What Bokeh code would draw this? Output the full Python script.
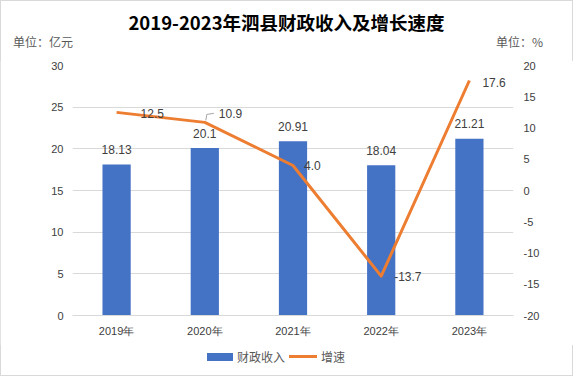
from bokeh.plotting import figure
from bokeh.models import (ColumnDataSource, Range1d, LinearAxis, FixedTicker, LabelSet, Div)
from bokeh.layouts import column
from bokeh.core.properties import value
from bokeh.embed import file_html
from bokeh.resources import INLINE

# ---- data ----
years = ["2019年", "2020年", "2021年", "2022年", "2023年"]
revenue = [18.13, 20.1, 20.91, 18.04, 21.21]          # 亿元
growth = [12.5, 10.9, 4.0, -13.7, 17.6]               # %
revenue_labels = ["18.13", "20.1", "20.91", "18.04", "21.21"]
growth_labels = ["12.5", "10.9", "4.0", "-13.7", "17.6"]
left_ticks = [0, 5, 10, 15, 20, 25, 30]
right_ticks = [-20, -15, -10, -5, 0, 5, 10, 15, 20]
series_names = ["财政收入", "增速"]
series_colors = ["#4472C4", "#ED7D31"]
title_text = "2019-2023年泗县财政收入及增长速度"
unit_left = "单位：亿元"
unit_right = "单位：%"

CJK = "Noto Sans CJK SC"
NUM = "Liberation Sans"

W, H = 573, 376
HEAD = 60
ML, MR, MT = 72, 60, 5
FH = 250
MB = 30
PH = MT + FH + MB
FOOT = H - HEAD - PH
FW = W - ML - MR

xs = list(range(len(years)))
x0, x1 = -0.5, len(years) - 0.5
y0, y1 = left_ticks[0], left_ticks[-1]
r0, r1 = right_ticks[0], right_ticks[-1]

header = Div(text=(
    f'<div style="position:relative;width:{W}px;height:{HEAD}px;font-family:\'{CJK}\';">'
    f'<div style="position:absolute;left:0;top:9px;width:{W}px;text-align:center;'
    f'font-size:18.5px;font-weight:bold;color:#000;line-height:26px;white-space:nowrap;">{title_text}</div>'
    f'<div style="position:absolute;left:13px;top:33px;font-size:12px;color:#595959;'
    f'line-height:18px;white-space:nowrap;">{unit_left}</div>'
    f'<div style="position:absolute;left:496px;top:33px;font-size:12px;color:#595959;'
    f'line-height:18px;white-space:nowrap;">{unit_right}</div>'
    f'</div>'), width=W, height=HEAD, margin=0)

footer = Div(text=(
    f'<div style="position:relative;width:{W}px;height:{FOOT}px;font-family:\'{CJK}\';'
    f'font-size:12px;color:#595959;">'
    f'<div style="position:absolute;left:207px;top:8px;width:26px;height:8px;background:{series_colors[0]};"></div>'
    f'<div style="position:absolute;left:237px;top:3px;line-height:18px;white-space:nowrap;">{series_names[0]}</div>'
    f'<div style="position:absolute;left:289px;top:10px;width:28px;height:3px;background:{series_colors[1]};"></div>'
    f'<div style="position:absolute;left:321px;top:3px;line-height:18px;white-space:nowrap;">{series_names[1]}</div>'
    f'</div>'), width=W, height=FOOT, margin=0)

p = figure(width=W, height=PH, output_backend="svg", toolbar_location=None, title=None,
           x_range=Range1d(x0, x1), y_range=Range1d(y0, y1),
           min_border_left=ML, min_border_right=MR, min_border_top=MT, min_border_bottom=MB,
           margin=0)
p.extra_y_ranges = {"pct": Range1d(r0, r1)}
p.outline_line_color = None
p.background_fill_color = "white"
p.border_fill_color = "white"

src = ColumnDataSource(dict(x=xs, rev=revenue, g=growth, rl=revenue_labels, gl=growth_labels))

bars = p.vbar(x="x", top="rev", width=0.32, source=src, fill_color=series_colors[0], line_color=None)
line = p.line(x="x", y="g", source=src, y_range_name="pct", line_color=series_colors[1],
              line_width=3, line_join="round")

# axes
p.xaxis.ticker = FixedTicker(ticks=xs)
p.xaxis.major_label_overrides = {i: y for i, y in enumerate(years)}
p.xaxis.axis_line_color = "#d9d9d9"
p.xaxis.major_tick_line_color = None
p.xaxis.minor_tick_line_color = None
p.xaxis.major_tick_out = 0
p.xaxis.major_label_standoff = 9
p.xaxis.major_label_text_font = NUM
p.xaxis.major_label_text_font_size = "11px"
p.xaxis.major_label_text_color = "#404040"

p.yaxis.ticker = FixedTicker(ticks=left_ticks)
p.yaxis.axis_line_color = None
p.yaxis.major_tick_line_color = None
p.yaxis.minor_tick_line_color = None
p.yaxis.major_tick_out = 0
p.yaxis.major_label_standoff = 9
p.yaxis.major_label_text_font = NUM
p.yaxis.major_label_text_font_size = "11px"
p.yaxis.major_label_text_color = "#404040"

ra = LinearAxis(y_range_name="pct", ticker=FixedTicker(ticks=right_ticks))
ra.major_label_overrides = {t: str(t) for t in right_ticks}
ra.axis_line_color = None
ra.major_tick_line_color = None
ra.minor_tick_line_color = None
ra.major_tick_out = 0
ra.major_label_standoff = 10
ra.major_label_text_font = NUM
ra.major_label_text_font_size = "11px"
ra.major_label_text_color = "#404040"
p.add_layout(ra, "right")

p.xgrid.grid_line_color = None
p.ygrid.grid_line_color = "#d9d9d9"
p.ygrid.grid_line_width = 1

# data labels
p.add_layout(LabelSet(x="x", y="rev", text="rl", source=src, y_offset=15,
                      text_align="center", text_baseline="middle",
                      text_font=value(NUM), text_font_size=value("12px"), text_color="#404040"))
g_xoff = [24, 14, 11, 13, 13]
g_yoff = [-1, 9, 0, 0, -2]
src2 = ColumnDataSource(dict(x=xs, g=growth, gl=growth_labels, xo=g_xoff, yo=g_yoff))
p.add_layout(LabelSet(x="x", y="g", text="gl", source=src2, y_range_name="pct",
                      x_offset="xo", y_offset="yo",
                      text_align="left", text_baseline="middle",
                      text_font=value(NUM), text_font_size=value("12px"), text_color="#404040"))

# leader line for 2020 growth label
dxp = (x1 - x0) / FW
dyp = (r1 - r0) / FH
i = 1
p.line(x=[xs[i] + 1 * dxp, xs[i] + 2 * dxp, xs[i] + 9 * dxp],
       y=[growth[i] + 2 * dyp, growth[i] + 8 * dyp, growth[i] + 9 * dyp],
       y_range_name="pct", line_color="#a6a6a6", line_width=1)

layout = column(header, p, footer, spacing=0, margin=0,
                styles={"outline": "1px solid #d9d9d9", "outline-offset": "-1px"})
open("out.html", "w").write(file_html(layout, INLINE))
